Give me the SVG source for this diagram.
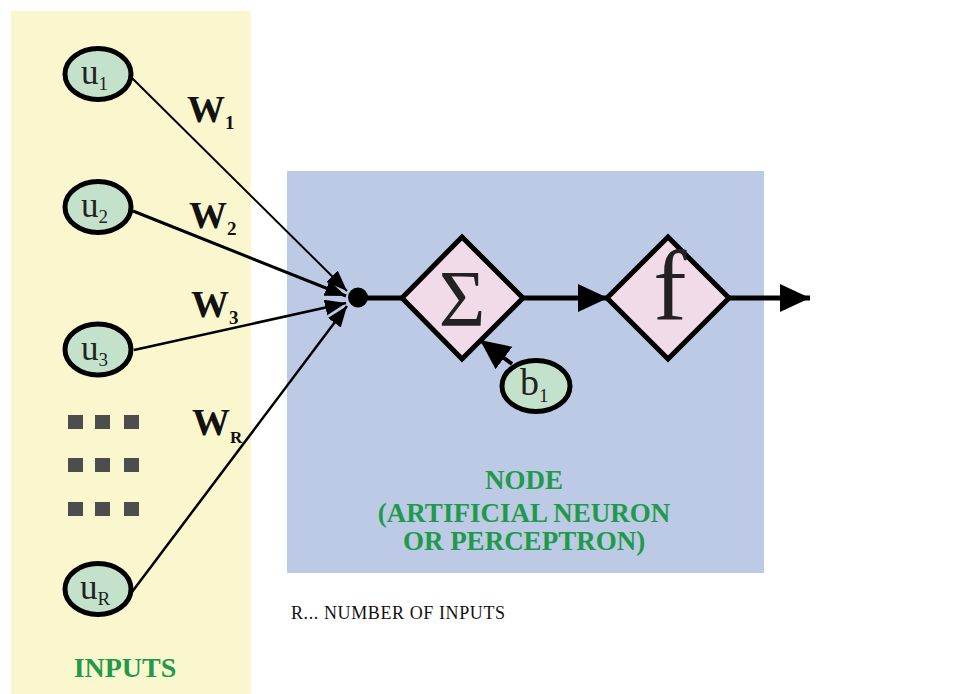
<svg xmlns="http://www.w3.org/2000/svg" width="976" height="694" viewBox="0 0 976 694">
  <style>
    .io { fill: #C4E2CB; stroke: #000; stroke-width: 5; }
    .op { fill: #F2DBE9; stroke: #000; stroke-width: 5; stroke-linejoin: miter; }
    .sym { font-family: "Liberation Serif", "DejaVu Serif", serif; fill: #222; }
    .w { font-family: "Liberation Serif", "DejaVu Serif", serif; font-weight: bold; fill: #111; }
    .lbl { font-family: "Liberation Serif", "DejaVu Serif", serif; font-weight: bold; fill: #1F9A4A; text-anchor: middle; }
    .dots rect { fill: #4D4D4D; }
    .edge { stroke: #000; fill: none; }
  </style>
  <defs>
    <marker id="tip" markerUnits="userSpaceOnUse" markerWidth="22" markerHeight="18" refX="21" refY="8" orient="auto">
      <path d="M0,0 L21,8 L0,16 z" fill="#000"/>
    </marker>
    <marker id="bigtip" markerUnits="userSpaceOnUse" markerWidth="32" markerHeight="30" refX="30" refY="14" orient="auto">
      <path d="M0,0 L30,14 L0,28 z" fill="#000"/>
    </marker>
  </defs>

  <rect width="976" height="694" fill="#FFFFFF"/>

  <!-- input panel and neuron panel -->
  <rect x="11" y="11" width="240" height="683" fill="#FAF7CF"/>
  <rect x="287" y="171" width="477" height="402" fill="#BCCAE5"/>

  <!-- connectors -->
  <g id="connectors" class="edge">
    <line x1="132" y1="78" x2="347" y2="291" stroke-width="2" marker-end="url(#tip)"/>
    <line x1="133" y1="211" x2="346" y2="296" stroke-width="3" marker-end="url(#tip)"/>
    <line x1="134" y1="350" x2="346" y2="303" stroke-width="2.5" marker-end="url(#tip)"/>
    <line x1="132" y1="592" x2="347" y2="306" stroke-width="2.5" marker-end="url(#tip)"/>
    <line x1="360" y1="298" x2="402" y2="298" stroke-width="5"/>
    <line x1="523" y1="298" x2="608" y2="298" stroke-width="5" marker-end="url(#bigtip)"/>
    <line x1="729" y1="298" x2="810" y2="298" stroke-width="5" marker-end="url(#bigtip)"/>
    <line x1="512" y1="364" x2="480" y2="340" stroke-width="4" marker-end="url(#bigtip)"/>
  </g>

  <!-- inputs -->
  <g id="u1">
    <ellipse class="io" cx="98" cy="74" rx="33" ry="25.5"/>
    <text class="sym" x="81" y="84" font-size="35">u<tspan font-size="19" dy="6">1</tspan></text>
  </g>
  <g id="u2">
    <ellipse class="io" cx="98" cy="207" rx="33" ry="25.5"/>
    <text class="sym" x="81" y="217" font-size="35">u<tspan font-size="19" dy="6">2</tspan></text>
  </g>
  <g id="u3">
    <ellipse class="io" cx="98" cy="349.5" rx="33" ry="25.5"/>
    <text class="sym" x="81" y="360" font-size="35">u<tspan font-size="19" dy="6">3</tspan></text>
  </g>
  <g id="uR">
    <ellipse class="io" cx="98" cy="589" rx="33" ry="25.5"/>
    <text class="sym" x="80" y="599" font-size="35">u<tspan font-size="19" dy="6">R</tspan></text>
  </g>

  <g id="more-inputs" class="dots">
    <rect x="68" y="415" width="15" height="14"/>
    <rect x="95" y="415" width="15" height="14"/>
    <rect x="124" y="415" width="15" height="14"/>
    <rect x="68" y="458" width="15" height="14"/>
    <rect x="95" y="458" width="15" height="14"/>
    <rect x="124" y="458" width="15" height="14"/>
    <rect x="68" y="502" width="15" height="14"/>
    <rect x="95" y="502" width="15" height="14"/>
    <rect x="124" y="502" width="15" height="14"/>
  </g>

  <!-- weights -->
  <g id="weights">
    <text class="w" x="187" y="122" font-size="38">W<tspan font-size="19" dy="7">1</tspan></text>
    <text class="w" x="189" y="228" font-size="38">W<tspan font-size="19" dy="7">2</tspan></text>
    <text class="w" x="191" y="317" font-size="38">W<tspan font-size="19" dy="7">3</tspan></text>
    <text class="w" x="192" y="435" font-size="38">W<tspan font-size="17" dy="8">R</tspan></text>
  </g>

  <!-- summing junction -->
  <g id="junction">
    <circle cx="358" cy="297.5" r="10" fill="#000"/>
  </g>

  <g id="sum">
    <polygon class="op" points="462,237 523,298 462,359 402,298"/>
    <text class="sym" x="462" y="326" font-size="80" text-anchor="middle">Σ</text>
  </g>

  <g id="activation">
    <polygon class="op" points="668,237 729,298 668,359 607,298"/>
    <text class="sym" x="670" y="320" font-size="100" text-anchor="middle" fill="#111">f</text>
  </g>

  <g id="b1">
    <ellipse class="io" cx="536" cy="386" rx="34" ry="25.5"/>
    <text class="sym" x="520" y="395" font-size="38">b<tspan font-size="19" dy="7">1</tspan></text>
  </g>

  <!-- labels -->
  <text class="lbl" x="125" y="677" font-size="28">INPUTS</text>
  <g class="lbl" font-size="27">
    <text x="524" y="489">NODE</text>
    <text x="524" y="522">(ARTIFICIAL NEURON</text>
    <text x="524" y="550">OR PERCEPTRON)</text>
  </g>
  <text x="291" y="619" font-family="Liberation Serif, DejaVu Serif, serif" font-size="18" letter-spacing="0.6" fill="#111">R... NUMBER OF INPUTS</text>
</svg>
